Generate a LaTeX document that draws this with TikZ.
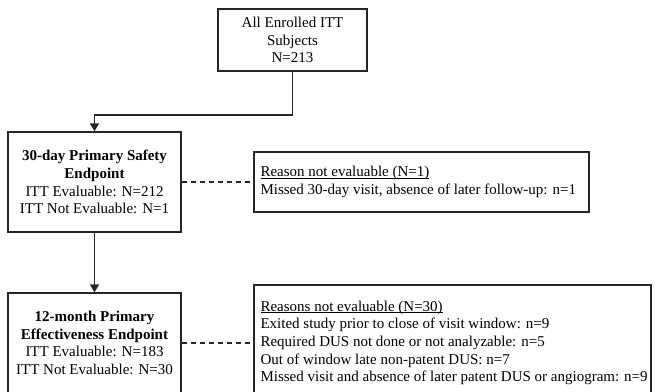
\documentclass[tikz,border=0pt]{standalone}
\usepackage{fontspec}
\setmainfont{Liberation Serif}
\usetikzlibrary{arrows.meta}
\newcommand\myul[1]{\underline{\raisebox{0pt}[\height][0pt]{#1}}}
\begin{document}
\begin{tikzpicture}[x=1pt,y=-1pt,
  every node/.style={font=\fontsize{15}{17.7}\selectfont, inner sep=0pt},
  box/.style={draw=black!85, line width=1.3pt, rectangle, align=center},
  conn/.style={draw=black!85, line width=1.3pt, -{Triangle[width=9pt,length=8pt]}},
  dashconn/.style={draw=black!85, line width=1.1pt, dash pattern=on 5pt off 4pt}]
\useasboundingbox (0,0) rectangle (655,391);
\clip (0,0) rectangle (655,391);
\node[box, minimum width=149pt, minimum height=62pt] (top) at (292.5,40) {All Enrolled ITT\\Subjects\\N=213};
\node[box, minimum width=173pt, minimum height=100pt] (b2) at (94.5,182) {\textbf{30-day Primary Safety}\\\textbf{Endpoint}\\ITT Evaluable: N=212\\ITT Not Evaluable: N=1};
\node[box, minimum width=173pt, minimum height=100pt] (b3) at (94.5,343) {\textbf{12-month Primary}\\\textbf{Effectiveness Endpoint}\\ITT Evaluable: N=183\\ITT Not Evaluable: N=30};
\node[box, minimum width=335pt, minimum height=60pt] (r1) at (421.5,182) {};
\node[anchor=west, align=left] (r1t) at ([xshift=7pt]r1.west) {\myul{Reason not evaluable (N=1)}\\Missed 30-day visit, absence of later follow-up: n=1};
\node[box, minimum width=397pt, minimum height=116pt] (r2) at (452.5,343) {};
\node[anchor=west, align=left] (r2t) at ([xshift=7pt]r2.west) {\myul{Reasons not evaluable (N=30)}\\Exited study prior to close of visit window: n=9\\Required DUS not done or not analyzable: n=5\\Out of window late non-patent DUS: n=7\\Missed visit and absence of later patent DUS or angiogram: n=9};
\coordinate (bend) at (292.5,115);
\draw[conn] (top.south) -- (bend) -| (b2.north);
\draw[conn] (b2.south) -- (b3.north);
\draw[dashconn] (b2.east) -- (r1.west);
\draw[dashconn] (b3.east) -- (b3.east -| r2.west);
\end{tikzpicture}
\end{document}
